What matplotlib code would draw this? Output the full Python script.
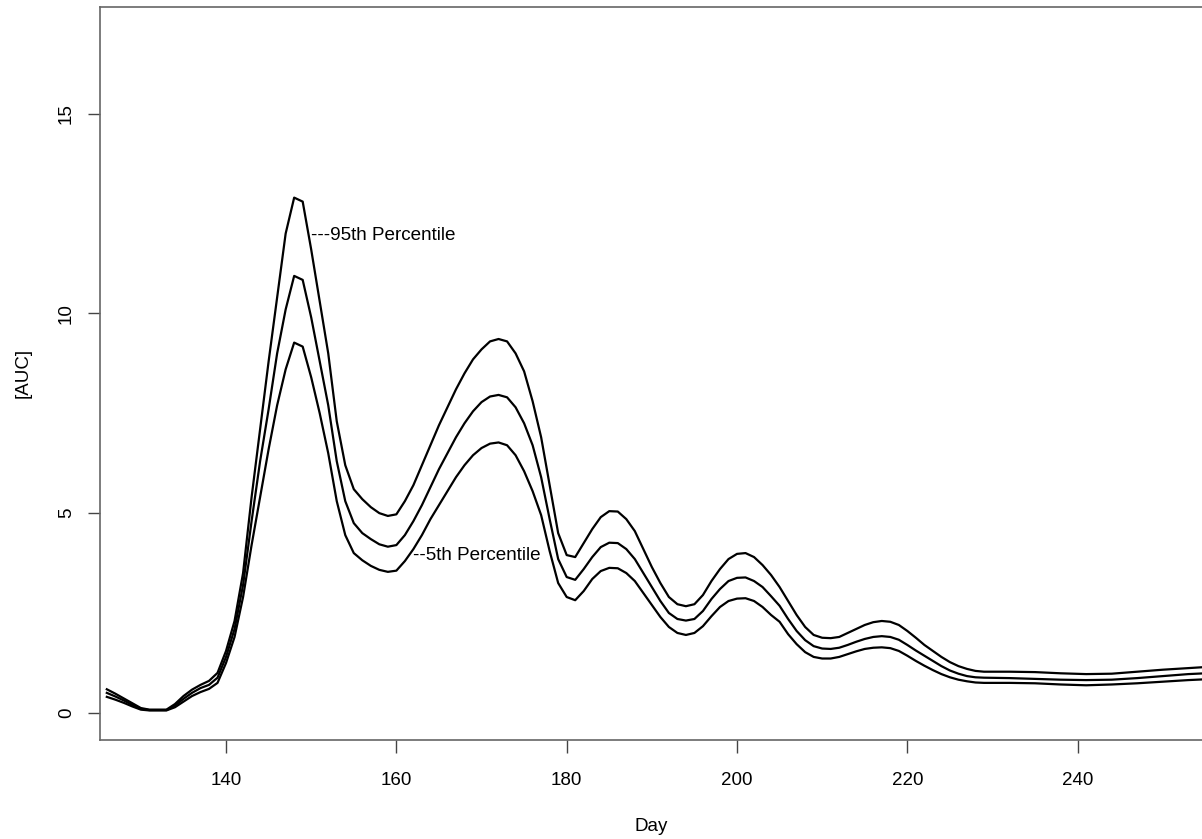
import matplotlib.pyplot as plt

plt.rcParams['font.family'] = ['Liberation Sans', 'DejaVu Sans']

# days (daily up to 229, then every 3 days)
days = list(range(126, 230)) + [232, 235, 238, 241, 244, 247, 250, 253, 256]

p95 = [0.59, 0.48, 0.36, 0.24, 0.12, 0.08, 0.08, 0.08, 0.22, 0.42,
       0.58, 0.70, 0.80, 1.00, 1.55, 2.30, 3.50, 5.40, 7.10, 8.80,
       10.4, 12.0, 12.9, 12.8, 11.6, 10.3, 9.00, 7.30, 6.20, 5.60,
       5.35, 5.15, 5.00, 4.93, 4.97, 5.30, 5.70, 6.20, 6.70, 7.20,
       7.65, 8.10, 8.50, 8.85, 9.10, 9.30, 9.36, 9.30, 9.00, 8.55,
       7.80, 6.90, 5.70, 4.50, 3.95, 3.90, 4.25, 4.60, 4.90, 5.05,
       5.04, 4.85, 4.55, 4.10, 3.65, 3.25, 2.90, 2.72, 2.67, 2.72,
       2.95, 3.30, 3.60, 3.85, 3.98, 4.00, 3.90, 3.70, 3.45, 3.15,
       2.80, 2.45, 2.15, 1.95, 1.88, 1.87, 1.90, 2.00, 2.10, 2.20,
       2.27, 2.30, 2.28, 2.20, 2.05, 1.88, 1.70, 1.55, 1.40, 1.27,
       1.17, 1.10, 1.05, 1.03,
       1.03, 1.02, 0.99, 0.97, 0.98, 1.03, 1.08, 1.12, 1.16]

p50 = [0.50, 0.41, 0.31, 0.20, 0.10, 0.07, 0.07, 0.07, 0.18, 0.35,
       0.50, 0.62, 0.70, 0.88, 1.40, 2.10, 3.20, 4.80, 6.30, 7.60,
       9.00, 10.1, 10.94, 10.84, 9.90, 8.80, 7.70, 6.30, 5.30, 4.75,
       4.50, 4.35, 4.22, 4.16, 4.20, 4.45, 4.80, 5.20, 5.65, 6.10,
       6.50, 6.90, 7.25, 7.55, 7.78, 7.92, 7.96, 7.90, 7.65, 7.25,
       6.70, 5.90, 4.85, 3.85, 3.40, 3.33, 3.60, 3.90, 4.15, 4.26,
       4.25, 4.10, 3.85, 3.50, 3.15, 2.80, 2.50, 2.35, 2.31, 2.35,
       2.55, 2.85, 3.10, 3.30, 3.38, 3.39, 3.30, 3.15, 2.92, 2.68,
       2.35, 2.05, 1.82, 1.67, 1.61, 1.60, 1.63, 1.70, 1.78, 1.85,
       1.90, 1.92, 1.90, 1.83, 1.70, 1.56, 1.43, 1.30, 1.17, 1.06,
       0.98, 0.92, 0.89, 0.88,
       0.87, 0.85, 0.83, 0.82, 0.83, 0.87, 0.92, 0.97, 1.00]

p05 = [0.40, 0.33, 0.25, 0.16, 0.08, 0.06, 0.06, 0.06, 0.14, 0.28,
       0.42, 0.52, 0.60, 0.75, 1.25, 1.90, 2.90, 4.20, 5.40, 6.60,
       7.70, 8.60, 9.27, 9.17, 8.40, 7.50, 6.50, 5.30, 4.45, 4.00,
       3.82, 3.68, 3.58, 3.53, 3.56, 3.80, 4.10, 4.45, 4.85, 5.20,
       5.55, 5.90, 6.20, 6.45, 6.63, 6.74, 6.77, 6.70, 6.45, 6.05,
       5.55, 4.95, 4.05, 3.25, 2.90, 2.82, 3.05, 3.35, 3.55, 3.63,
       3.62, 3.50, 3.30, 3.00, 2.70, 2.40, 2.15, 2.00, 1.95, 2.00,
       2.17, 2.42, 2.65, 2.80, 2.86, 2.87, 2.80, 2.65, 2.45, 2.28,
       1.97, 1.72, 1.52, 1.40, 1.36, 1.36, 1.40, 1.47, 1.54, 1.60,
       1.63, 1.64, 1.62, 1.55, 1.43, 1.30, 1.18, 1.07, 0.97, 0.89,
       0.83, 0.79, 0.76, 0.75,
       0.75, 0.74, 0.71, 0.69, 0.71, 0.74, 0.78, 0.82, 0.85]

x_ticks = [140, 160, 180, 200, 220, 240]
y_ticks = [0, 5, 10, 15]

fig = plt.figure(figsize=(12.02, 8.39), dpi=100)
ax = fig.add_axes([100 / 1202, 99 / 839, 1 - 100 / 1202, 733.3 / 839])

for series in (p95, p50, p05):
    ax.plot(days, series, color='black', lw=1.6)

ax.text(150, 11.95, '---95th Percentile', ha='left', va='center', fontsize=13.6)
ax.text(162, 3.95, '--5th Percentile', ha='left', va='center', fontsize=13.6)

ax.set_xlim(125.2, 254.6)
ax.set_ylim(-0.68, 17.68)
ax.set_xticks(x_ticks)
ax.set_yticks(y_ticks)
ax.set_yticklabels([str(v) for v in y_ticks], rotation=90, va='center')

ax.tick_params(axis='x', length=9, width=1, color='#444444', pad=14, labelsize=13.5)
ax.tick_params(axis='y', length=9, width=1, color='#444444', pad=9, labelsize=13.5)

for side in ('left', 'bottom', 'top'):
    ax.spines[side].set_color('#666666')
    ax.spines[side].set_linewidth(1.2)
ax.spines['right'].set_visible(False)

ax.set_xlabel('Day', fontsize=13.5, labelpad=21)
ax.set_ylabel('[AUC]', fontsize=13.5, labelpad=19)

fig.savefig('out.png', dpi=100, facecolor='white')
plt.close(fig)
